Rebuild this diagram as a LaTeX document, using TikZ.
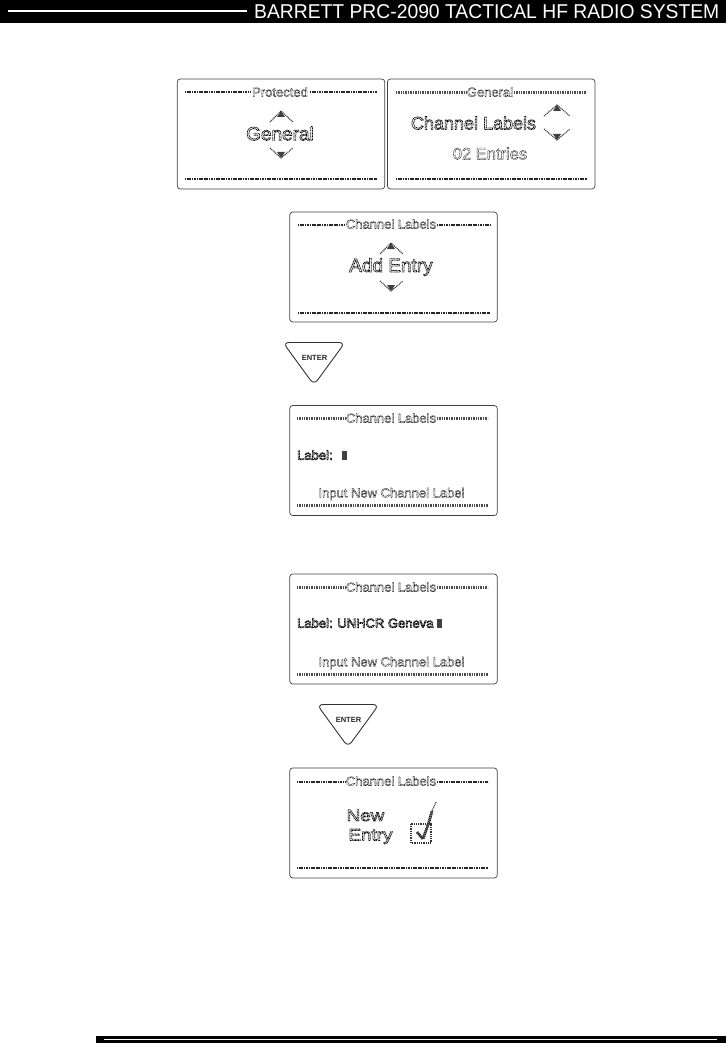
\documentclass[tikz,border=0pt]{standalone}
\usepackage{fontspec}
\setmainfont{Liberation Sans}
\newfontfamily\headfont[FakeStretch=0.965]{Liberation Sans}
\newfontfamily\lcdwide[FakeStretch=1.14]{Liberation Sans}
\usetikzlibrary{positioning,calc}
\newcommand{\lcdtxt}[1]{\special{pdf:code q 1 Tr 0.75 w [1 0.55] 0 d}#1\special{pdf:code Q}}
\newcommand{\lcdfine}[1]{\special{pdf:code q 1 Tr 0.4 w [0.8 0.5] 0 d}#1\special{pdf:code Q}}
\tikzset{
  panel/.style={draw=black!75, rounded corners=3pt, line width=0.7pt, minimum width=207.5pt, minimum height=110pt, inner sep=0pt},
  lcdrule/.style={line width=2pt, black!85, dash pattern=on 1.2pt off 0.5pt},
  lcddbl/.style={line width=2.4pt, black!70, dash pattern=on 1pt off 0.7pt},
  lcdthin/.style={line width=1.1pt, black!80, dash pattern=on 1pt off 0.8pt},
  ttl/.style={font=\fontsize{13}{14}\selectfont, inner sep=0pt, black},
  big/.style={font=\fontsize{19}{20}\selectfont, inner sep=0pt, black},
  sml/.style={font=\fontsize{13}{14}\selectfont, inner sep=0pt, black},
  entr/.style={font=\fontsize{7.5}{8}\selectfont\bfseries, inner sep=0pt, black!85},
  keyline/.style={draw=black!80, line width=0.9pt, rounded corners=6pt},
}
\begin{document}
\begin{tikzpicture}[x=1pt,y=-1pt]
  \useasboundingbox (0,0) rectangle (726,1043);
  % header and footer
  \fill[black] (0,0) rectangle (726,23);
  \draw[white, line width=2.2pt] (8,10.7) -- (247,10.7);
  \node[anchor=west, white, inner sep=0pt, font=\fontsize{20}{21}\selectfont\headfont] (head) at (254,11.5) {BARRETT PRC-2090 TACTICAL HF RADIO SYSTEM};
  \fill[black] (96,1036) rectangle (726,1043);
  \draw[white, line width=1pt] (104,1039.3) -- (717,1039.3);
  % panels
  \node[panel] (prot) at (281,134) {};
  \node[panel] (gen) at (491.2,134) {};
  \node[panel] (add) at (393.5,267) {};
  \node[panel] (inp) at (393.5,460.5) {};
  \node[panel] (una) at (393.5,629) {};
  \node[panel] (done) at (393.5,823) {};
  % protected
  \node[ttl] (protT) at (280,92) {\lcdfine{Protected}};
  \draw[lcdrule] (185,92.5) -- (250,92.5) (310,92.5) -- (377,92.5);
  \draw[lcdrule] (185,179.5) -- (377,179.5);
  \node[big] (protG) at (280,133.5) {\lcdtxt{General}};
  \draw[lcdthin] (270,122) -- (281,111) -- (293,122) (270,148) -- (281,158) -- (293,148);
  \fill[black!75] (277,117) -- (281,111) -- (285,117) -- cycle (277,152) -- (281,158) -- (285,152) -- cycle;
  % general
  \node[ttl] (genT) at (490,92) {\lcdfine{General}};
  \draw[lcddbl] (396,92.5) -- (466,92.5) (514,92.5) -- (587,92.5);
  \draw[lcdrule] (396,179.5) -- (587,179.5);
  \node[big, font=\fontsize{18}{19}\selectfont] (genC) at (473.5,123) {\lcdtxt{Channel Labels}};
  \node[sml, font=\fontsize{16.5}{17}\selectfont] (genE) at (490,153.5) {\lcdfine{02 Entries}};
  \draw[lcdthin] (544,116) -- (557,105) -- (570,116) (544,129) -- (557,140) -- (570,129);
  \fill[black!75] (553,111) -- (557,105) -- (561,111) -- cycle (553,134) -- (557,140) -- (561,134) -- cycle;
  % add entry
  \node[ttl] (addT) at (391,224) {\lcdfine{Channel Labels}};
  \draw[lcdrule] (298,225) -- (344,225) (437,225) -- (490,225);
  \draw[lcdrule] (298,312.5) -- (490,312.5);
  \node[big] (addE) at (391,267) {\lcdtxt{Add Entry}};
  \draw[lcdthin] (380,254) -- (391,243) -- (403,254) (380,281) -- (391,291) -- (403,281);
  \fill[black!75] (387,249) -- (391,243) -- (395,249) -- cycle (387,285) -- (391,291) -- (395,285) -- cycle;
  % first key
  \draw[keyline] (283,342.5) -- (345,342.5) -- (314,385) -- cycle;
  \node[entr] (key1) at (314.5,358) {ENTER};
  % input
  \node[ttl] (inpT) at (391,418) {\lcdfine{Channel Labels}};
  \draw[lcddbl] (297,418.5) -- (345,418.5) (437,418.5) -- (488,418.5);
  \node[sml, anchor=west] (inpL) at (297,455) {\lcdtxt{Label:}};
  \fill[black!75] (342,451) rectangle (347,460);
  \node[sml] (inpI) at (391.5,494) {\lcdfine{Input New Channel Label}};
  \draw[lcddbl] (297,505.5) -- (488,505.5);
  % unhcr
  \node[ttl] (unaT) at (391,587) {\lcdfine{Channel Labels}};
  \draw[lcddbl] (297,587.5) -- (345,587.5) (437,587.5) -- (488,587.5);
  \node[sml, anchor=west] (unaL) at (297,623) {\lcdtxt{Label: UNHCR Geneva}};
  \fill[black!75] (437,619) rectangle (442,628);
  \node[sml] (unaI) at (391.5,663) {\lcdfine{Input New Channel Label}};
  \draw[lcddbl] (297,674.5) -- (488,674.5);
  % second key
  \draw[keyline] (317,704.5) -- (379,704.5) -- (348,747) -- cycle;
  \node[entr] (key2) at (348.5,720) {ENTER};
  % new entry
  \node[ttl] (doneT) at (391,781) {\lcdfine{Channel Labels}};
  \draw[lcdrule] (297,781.5) -- (345,781.5) (437,781.5) -- (488,781.5);
  \draw[lcdrule] (297,868) -- (488,868);
  \node[big, font=\fontsize{16.5}{17}\selectfont\lcdwide] (doneN) at (365.5,815.5) {\lcdtxt{New}};
  \node[big, font=\fontsize{16.5}{17}\selectfont\lcdwide] (doneE) at (370.5,836.5) {\lcdtxt{Entry}};
  \draw[lcdthin] (411,824) rectangle (431,843);
  \draw[black!80, line width=2.8pt, dash pattern=on 1.4pt off 0.5pt] (417,832) -- (423,839) -- (429,822) -- (432,811);
  \draw[lcdthin] (432,811) -- (436,802);
\end{tikzpicture}
\end{document}
